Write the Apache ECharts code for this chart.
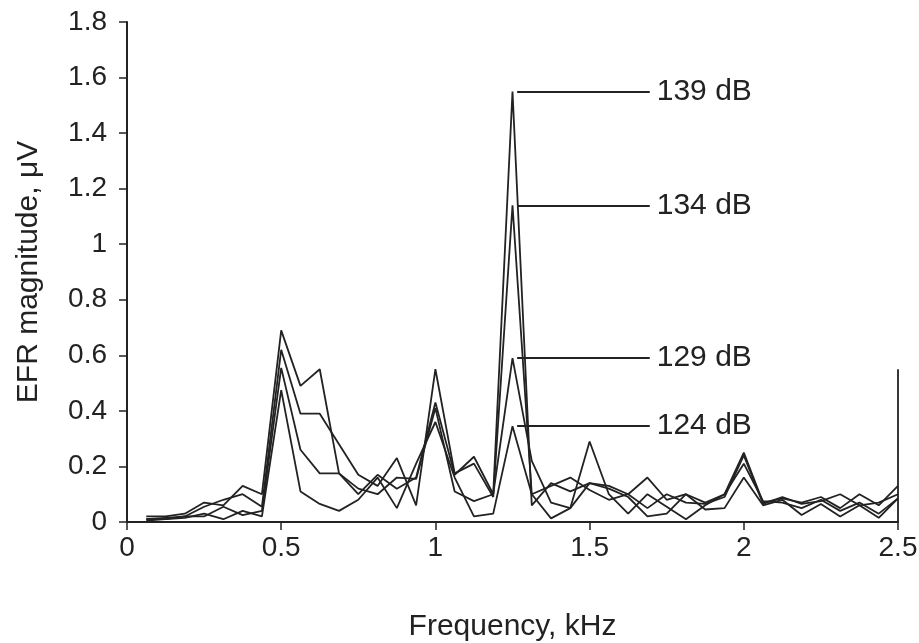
<!DOCTYPE html>
<html>
<head>
<meta charset="utf-8">
<script src="https://cdn.jsdelivr.net/npm/echarts@6/dist/echarts.min.js"></script>
<style>
  html, body { margin: 0; padding: 0; background: #fff; }
  #chart { width: 919px; height: 643px; }
</style>
</head>
<body>
<div id="chart"></div>
<script>
// frequency bins, kHz (1/16 kHz spacing)
const freqs = [
  0.0625, 0.125, 0.1875, 0.25, 0.3125, 0.375, 0.4375, 0.5, 0.5625, 0.625,
  0.6875, 0.75, 0.8125, 0.875, 0.9375, 1, 1.0625, 1.125, 1.1875, 1.25,
  1.3125, 1.375, 1.4375, 1.5, 1.5625, 1.625, 1.6875, 1.75, 1.8125, 1.875,
  1.9375, 2, 2.0625, 2.125, 2.1875, 2.25, 2.3125, 2.375, 2.4375, 2.5
]

// EFR magnitude, µV, per stimulus level
const s139 = [
  0.02, 0.02, 0.03, 0.07, 0.06, 0.13, 0.10, 0.69, 0.49, 0.55,
  0.175, 0.10, 0.17, 0.12, 0.16, 0.43, 0.17, 0.235, 0.10, 1.55,
  0.06, 0.14, 0.11, 0.14, 0.13, 0.10, 0.16, 0.08, 0.10, 0.07,
  0.10, 0.25, 0.07, 0.085, 0.07, 0.09, 0.05, 0.10, 0.06, 0.13
]
const s134 = [
  0.01, 0.01, 0.02, 0.055, 0.08, 0.10, 0.055, 0.62, 0.39, 0.39,
  0.28, 0.17, 0.13, 0.23, 0.06, 0.55, 0.175, 0.21, 0.09, 1.14,
  0.10, 0.13, 0.16, 0.115, 0.08, 0.10, 0.05, 0.10, 0.07, 0.065,
  0.09, 0.24, 0.065, 0.09, 0.065, 0.075, 0.10, 0.06, 0.07, 0.10
]
const s129 = [
  0.01, 0.015, 0.02, 0.02, 0.055, 0.025, 0.04, 0.555, 0.26, 0.175,
  0.175, 0.12, 0.10, 0.16, 0.155, 0.41, 0.11, 0.075, 0.10, 0.59,
  0.22, 0.07, 0.05, 0.29, 0.10, 0.03, 0.10, 0.055, 0.01, 0.06,
  0.10, 0.21, 0.075, 0.07, 0.05, 0.08, 0.04, 0.07, 0.03, 0.085
]
const s124 = [
  0.005, 0.01, 0.015, 0.03, 0.01, 0.04, 0.02, 0.475, 0.11, 0.065,
  0.04, 0.08, 0.16, 0.05, 0.21, 0.36, 0.16, 0.02, 0.03, 0.345,
  0.10, 0.013, 0.05, 0.14, 0.12, 0.09, 0.02, 0.03, 0.10, 0.045,
  0.05, 0.16, 0.06, 0.08, 0.025, 0.065, 0.02, 0.06, 0.015, 0.085
]

const levels = ['139 dB', '134 dB', '129 dB', '124 dB']
const seriesData = [s139, s134, s129, s124]
// leader line runs from just right of the 1.25 kHz peak out to the label
const leaderFrom = 1.265
const leaderTo = 1.695

const ink = '#222'
const font = 'Liberation Sans, Arial, sans-serif'

const chart = echarts.init(document.getElementById('chart'))

const series = seriesData.map((vals, i) => {
  const peak = vals[freqs.indexOf(1.25)]
  return {
    name: levels[i],
    type: 'line',
    data: freqs.map((f, j) => [f, vals[j]]),
    showSymbol: false,
    symbol: 'none',
    lineStyle: { color: ink, width: 1.8 },
    z: 3,
    markLine: {
      silent: true,
      symbol: ['none', 'none'],
      lineStyle: { color: ink, width: 1.8, type: 'solid' },
      label: {
        show: true,
        position: 'end',
        formatter: levels[i],
        color: ink,
        fontSize: 30,
        fontFamily: font,
        distance: 7,
        padding: [0, 0, 16, 0]
      },
      data: [[{ coord: [leaderFrom, peak] }, { coord: [leaderTo, peak] }]]
    }
  }
})

// right-hand frame segment at 2.5 kHz
series.push({
  type: 'line',
  data: [],
  markLine: {
    silent: true,
    symbol: ['none', 'none'],
    label: { show: false },
    lineStyle: { color: ink, width: 1.8, type: 'solid' },
    data: [[{ coord: [2.5, 0] }, { coord: [2.5, 0.55] }]]
  }
})

chart.setOption({
  backgroundColor: '#fff',
  animation: false,
  grid: { left: 127, right: 21, top: 22, bottom: 121, outerBoundsMode: 'none', containLabel: false },
  xAxis: {
    type: 'value',
    min: 0,
    max: 2.5,
    interval: 0.5,
    name: 'Frequency, kHz',
    nameLocation: 'middle',
    nameGap: 90,
    nameTextStyle: { color: ink, fontSize: 30, fontFamily: font },
    axisLine: { lineStyle: { color: ink, width: 2 } },
    axisTick: { show: true, length: 8, lineStyle: { color: ink, width: 1.5 } },
    axisLabel: { color: ink, fontSize: 28, fontFamily: font, margin: 12 },
    splitLine: { show: false }
  },
  yAxis: {
    type: 'value',
    min: 0,
    max: 1.8,
    interval: 0.2,
    name: 'EFR magnitude, μV',
    nameLocation: 'middle',
    nameGap: 83,
    nameTextStyle: { color: ink, fontSize: 30, fontFamily: font },
    axisLine: { show: true, lineStyle: { color: ink, width: 2 } },
    axisTick: { show: true, length: 8, lineStyle: { color: ink, width: 1.5 } },
    axisLabel: { color: ink, fontSize: 28, fontFamily: font, margin: 20 },
    splitLine: { show: false }
  },
  series
})

window.addEventListener('resize', () => chart.resize())
</script>
</body>
</html>
